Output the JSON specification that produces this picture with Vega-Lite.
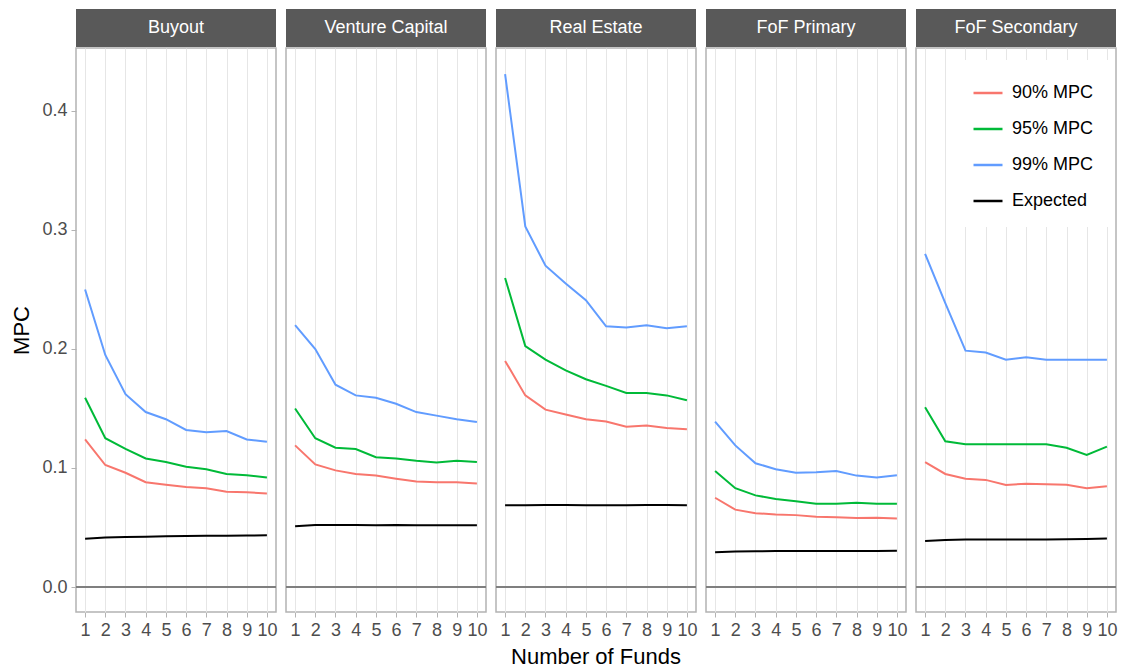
{
  "$schema": "https://vega.github.io/schema/vega-lite/v6.json",
  "background": "white",
  "padding": {"left": 10, "top": 9, "right": 5, "bottom": 0},
  "spacing": 0,
  "config": {
    "font": "Liberation Sans",
    "view": {"stroke": "#B3B3B3", "strokeWidth": 1.5},
    "axis": {
      "gridColor": "#E6E6E6", "gridWidth": 1,
      "tickColor": "#B3B3B3", "tickSize": 5, "tickWidth": 1,
      "labelColor": "#4D4D4D", "labelFontSize": 18, "labelFont": "Liberation Sans",
      "titleFontSize": 22, "titleFont": "Liberation Sans", "titleColor": "black", "titleFontWeight": "normal",
      "domain": false, "labelPadding": 4
    },
    "legend": {
      "labelFontSize": 18, "labelFont": "Liberation Sans", "labelColor": "black",
      "symbolType": "stroke", "symbolSize": 841, "symbolStrokeWidth": 2.5,
      "fillColor": "white", "padding": 17, "rowPadding": 11, "labelOffset": 8
    }
  },
  "datasets": {
    "panels": [
      {"panel": "Buyout"}, {"panel": "Venture Capital"}, {"panel": "Real Estate"}, {"panel": "FoF Primary"}, {"panel": "FoF Secondary"}
    ],
    "mpc": [
      {"panel":"Buyout","n":1,"series":"90% MPC","mpc":0.124},{"panel":"Buyout","n":2,"series":"90% MPC","mpc":0.1025},{"panel":"Buyout","n":3,"series":"90% MPC","mpc":0.096},{"panel":"Buyout","n":4,"series":"90% MPC","mpc":0.088},{"panel":"Buyout","n":5,"series":"90% MPC","mpc":0.086},{"panel":"Buyout","n":6,"series":"90% MPC","mpc":0.084},{"panel":"Buyout","n":7,"series":"90% MPC","mpc":0.083},{"panel":"Buyout","n":8,"series":"90% MPC","mpc":0.080},{"panel":"Buyout","n":9,"series":"90% MPC","mpc":0.0796},{"panel":"Buyout","n":10,"series":"90% MPC","mpc":0.0786},
      {"panel":"Buyout","n":1,"series":"95% MPC","mpc":0.159},{"panel":"Buyout","n":2,"series":"95% MPC","mpc":0.125},{"panel":"Buyout","n":3,"series":"95% MPC","mpc":0.116},{"panel":"Buyout","n":4,"series":"95% MPC","mpc":0.108},{"panel":"Buyout","n":5,"series":"95% MPC","mpc":0.105},{"panel":"Buyout","n":6,"series":"95% MPC","mpc":0.101},{"panel":"Buyout","n":7,"series":"95% MPC","mpc":0.099},{"panel":"Buyout","n":8,"series":"95% MPC","mpc":0.095},{"panel":"Buyout","n":9,"series":"95% MPC","mpc":0.094},{"panel":"Buyout","n":10,"series":"95% MPC","mpc":0.092},
      {"panel":"Buyout","n":1,"series":"99% MPC","mpc":0.250},{"panel":"Buyout","n":2,"series":"99% MPC","mpc":0.195},{"panel":"Buyout","n":3,"series":"99% MPC","mpc":0.162},{"panel":"Buyout","n":4,"series":"99% MPC","mpc":0.147},{"panel":"Buyout","n":5,"series":"99% MPC","mpc":0.141},{"panel":"Buyout","n":6,"series":"99% MPC","mpc":0.132},{"panel":"Buyout","n":7,"series":"99% MPC","mpc":0.130},{"panel":"Buyout","n":8,"series":"99% MPC","mpc":0.131},{"panel":"Buyout","n":9,"series":"99% MPC","mpc":0.124},{"panel":"Buyout","n":10,"series":"99% MPC","mpc":0.122},
      {"panel":"Buyout","n":1,"series":"Expected","mpc":0.0405},{"panel":"Buyout","n":2,"series":"Expected","mpc":0.0415},{"panel":"Buyout","n":3,"series":"Expected","mpc":0.042},{"panel":"Buyout","n":4,"series":"Expected","mpc":0.0422},{"panel":"Buyout","n":5,"series":"Expected","mpc":0.0426},{"panel":"Buyout","n":6,"series":"Expected","mpc":0.0428},{"panel":"Buyout","n":7,"series":"Expected","mpc":0.043},{"panel":"Buyout","n":8,"series":"Expected","mpc":0.043},{"panel":"Buyout","n":9,"series":"Expected","mpc":0.0432},{"panel":"Buyout","n":10,"series":"Expected","mpc":0.0434},

      {"panel":"Venture Capital","n":1,"series":"90% MPC","mpc":0.119},{"panel":"Venture Capital","n":2,"series":"90% MPC","mpc":0.103},{"panel":"Venture Capital","n":3,"series":"90% MPC","mpc":0.098},{"panel":"Venture Capital","n":4,"series":"90% MPC","mpc":0.095},{"panel":"Venture Capital","n":5,"series":"90% MPC","mpc":0.0936},{"panel":"Venture Capital","n":6,"series":"90% MPC","mpc":0.091},{"panel":"Venture Capital","n":7,"series":"90% MPC","mpc":0.0886},{"panel":"Venture Capital","n":8,"series":"90% MPC","mpc":0.088},{"panel":"Venture Capital","n":9,"series":"90% MPC","mpc":0.088},{"panel":"Venture Capital","n":10,"series":"90% MPC","mpc":0.087},
      {"panel":"Venture Capital","n":1,"series":"95% MPC","mpc":0.150},{"panel":"Venture Capital","n":2,"series":"95% MPC","mpc":0.125},{"panel":"Venture Capital","n":3,"series":"95% MPC","mpc":0.117},{"panel":"Venture Capital","n":4,"series":"95% MPC","mpc":0.116},{"panel":"Venture Capital","n":5,"series":"95% MPC","mpc":0.109},{"panel":"Venture Capital","n":6,"series":"95% MPC","mpc":0.108},{"panel":"Venture Capital","n":7,"series":"95% MPC","mpc":0.106},{"panel":"Venture Capital","n":8,"series":"95% MPC","mpc":0.1046},{"panel":"Venture Capital","n":9,"series":"95% MPC","mpc":0.106},{"panel":"Venture Capital","n":10,"series":"95% MPC","mpc":0.105},
      {"panel":"Venture Capital","n":1,"series":"99% MPC","mpc":0.220},{"panel":"Venture Capital","n":2,"series":"99% MPC","mpc":0.200},{"panel":"Venture Capital","n":3,"series":"99% MPC","mpc":0.170},{"panel":"Venture Capital","n":4,"series":"99% MPC","mpc":0.161},{"panel":"Venture Capital","n":5,"series":"99% MPC","mpc":0.159},{"panel":"Venture Capital","n":6,"series":"99% MPC","mpc":0.154},{"panel":"Venture Capital","n":7,"series":"99% MPC","mpc":0.147},{"panel":"Venture Capital","n":8,"series":"99% MPC","mpc":0.144},{"panel":"Venture Capital","n":9,"series":"99% MPC","mpc":0.141},{"panel":"Venture Capital","n":10,"series":"99% MPC","mpc":0.1386},
      {"panel":"Venture Capital","n":1,"series":"Expected","mpc":0.051},{"panel":"Venture Capital","n":2,"series":"Expected","mpc":0.0522},{"panel":"Venture Capital","n":3,"series":"Expected","mpc":0.052},{"panel":"Venture Capital","n":4,"series":"Expected","mpc":0.052},{"panel":"Venture Capital","n":5,"series":"Expected","mpc":0.0518},{"panel":"Venture Capital","n":6,"series":"Expected","mpc":0.052},{"panel":"Venture Capital","n":7,"series":"Expected","mpc":0.0518},{"panel":"Venture Capital","n":8,"series":"Expected","mpc":0.0518},{"panel":"Venture Capital","n":9,"series":"Expected","mpc":0.0518},{"panel":"Venture Capital","n":10,"series":"Expected","mpc":0.0518},

      {"panel":"Real Estate","n":1,"series":"90% MPC","mpc":0.190},{"panel":"Real Estate","n":2,"series":"90% MPC","mpc":0.161},{"panel":"Real Estate","n":3,"series":"90% MPC","mpc":0.149},{"panel":"Real Estate","n":4,"series":"90% MPC","mpc":0.145},{"panel":"Real Estate","n":5,"series":"90% MPC","mpc":0.141},{"panel":"Real Estate","n":6,"series":"90% MPC","mpc":0.139},{"panel":"Real Estate","n":7,"series":"90% MPC","mpc":0.1346},{"panel":"Real Estate","n":8,"series":"90% MPC","mpc":0.1357},{"panel":"Real Estate","n":9,"series":"90% MPC","mpc":0.1336},{"panel":"Real Estate","n":10,"series":"90% MPC","mpc":0.1325},
      {"panel":"Real Estate","n":1,"series":"95% MPC","mpc":0.2596},{"panel":"Real Estate","n":2,"series":"95% MPC","mpc":0.2025},{"panel":"Real Estate","n":3,"series":"95% MPC","mpc":0.191},{"panel":"Real Estate","n":4,"series":"95% MPC","mpc":0.182},{"panel":"Real Estate","n":5,"series":"95% MPC","mpc":0.1746},{"panel":"Real Estate","n":6,"series":"95% MPC","mpc":0.169},{"panel":"Real Estate","n":7,"series":"95% MPC","mpc":0.163},{"panel":"Real Estate","n":8,"series":"95% MPC","mpc":0.163},{"panel":"Real Estate","n":9,"series":"95% MPC","mpc":0.161},{"panel":"Real Estate","n":10,"series":"95% MPC","mpc":0.157},
      {"panel":"Real Estate","n":1,"series":"99% MPC","mpc":0.431},{"panel":"Real Estate","n":2,"series":"99% MPC","mpc":0.303},{"panel":"Real Estate","n":3,"series":"99% MPC","mpc":0.270},{"panel":"Real Estate","n":4,"series":"99% MPC","mpc":0.255},{"panel":"Real Estate","n":5,"series":"99% MPC","mpc":0.241},{"panel":"Real Estate","n":6,"series":"99% MPC","mpc":0.219},{"panel":"Real Estate","n":7,"series":"99% MPC","mpc":0.218},{"panel":"Real Estate","n":8,"series":"99% MPC","mpc":0.220},{"panel":"Real Estate","n":9,"series":"99% MPC","mpc":0.2175},{"panel":"Real Estate","n":10,"series":"99% MPC","mpc":0.219},
      {"panel":"Real Estate","n":1,"series":"Expected","mpc":0.0686},{"panel":"Real Estate","n":2,"series":"Expected","mpc":0.0688},{"panel":"Real Estate","n":3,"series":"Expected","mpc":0.069},{"panel":"Real Estate","n":4,"series":"Expected","mpc":0.069},{"panel":"Real Estate","n":5,"series":"Expected","mpc":0.0688},{"panel":"Real Estate","n":6,"series":"Expected","mpc":0.0688},{"panel":"Real Estate","n":7,"series":"Expected","mpc":0.0688},{"panel":"Real Estate","n":8,"series":"Expected","mpc":0.069},{"panel":"Real Estate","n":9,"series":"Expected","mpc":0.069},{"panel":"Real Estate","n":10,"series":"Expected","mpc":0.0688},

      {"panel":"FoF Primary","n":1,"series":"90% MPC","mpc":0.075},{"panel":"FoF Primary","n":2,"series":"90% MPC","mpc":0.065},{"panel":"FoF Primary","n":3,"series":"90% MPC","mpc":0.062},{"panel":"FoF Primary","n":4,"series":"90% MPC","mpc":0.061},{"panel":"FoF Primary","n":5,"series":"90% MPC","mpc":0.0604},{"panel":"FoF Primary","n":6,"series":"90% MPC","mpc":0.059},{"panel":"FoF Primary","n":7,"series":"90% MPC","mpc":0.0586},{"panel":"FoF Primary","n":8,"series":"90% MPC","mpc":0.058},{"panel":"FoF Primary","n":9,"series":"90% MPC","mpc":0.0582},{"panel":"FoF Primary","n":10,"series":"90% MPC","mpc":0.0575},
      {"panel":"FoF Primary","n":1,"series":"95% MPC","mpc":0.0975},{"panel":"FoF Primary","n":2,"series":"95% MPC","mpc":0.083},{"panel":"FoF Primary","n":3,"series":"95% MPC","mpc":0.077},{"panel":"FoF Primary","n":4,"series":"95% MPC","mpc":0.074},{"panel":"FoF Primary","n":5,"series":"95% MPC","mpc":0.072},{"panel":"FoF Primary","n":6,"series":"95% MPC","mpc":0.070},{"panel":"FoF Primary","n":7,"series":"95% MPC","mpc":0.070},{"panel":"FoF Primary","n":8,"series":"95% MPC","mpc":0.0707},{"panel":"FoF Primary","n":9,"series":"95% MPC","mpc":0.070},{"panel":"FoF Primary","n":10,"series":"95% MPC","mpc":0.070},
      {"panel":"FoF Primary","n":1,"series":"99% MPC","mpc":0.139},{"panel":"FoF Primary","n":2,"series":"99% MPC","mpc":0.119},{"panel":"FoF Primary","n":3,"series":"99% MPC","mpc":0.104},{"panel":"FoF Primary","n":4,"series":"99% MPC","mpc":0.099},{"panel":"FoF Primary","n":5,"series":"99% MPC","mpc":0.096},{"panel":"FoF Primary","n":6,"series":"99% MPC","mpc":0.0964},{"panel":"FoF Primary","n":7,"series":"99% MPC","mpc":0.0975},{"panel":"FoF Primary","n":8,"series":"99% MPC","mpc":0.0936},{"panel":"FoF Primary","n":9,"series":"99% MPC","mpc":0.092},{"panel":"FoF Primary","n":10,"series":"99% MPC","mpc":0.094},
      {"panel":"FoF Primary","n":1,"series":"Expected","mpc":0.0293},{"panel":"FoF Primary","n":2,"series":"Expected","mpc":0.0298},{"panel":"FoF Primary","n":3,"series":"Expected","mpc":0.030},{"panel":"FoF Primary","n":4,"series":"Expected","mpc":0.0302},{"panel":"FoF Primary","n":5,"series":"Expected","mpc":0.0303},{"panel":"FoF Primary","n":6,"series":"Expected","mpc":0.0302},{"panel":"FoF Primary","n":7,"series":"Expected","mpc":0.0302},{"panel":"FoF Primary","n":8,"series":"Expected","mpc":0.0303},{"panel":"FoF Primary","n":9,"series":"Expected","mpc":0.0303},{"panel":"FoF Primary","n":10,"series":"Expected","mpc":0.0304},

      {"panel":"FoF Secondary","n":1,"series":"90% MPC","mpc":0.105},{"panel":"FoF Secondary","n":2,"series":"90% MPC","mpc":0.095},{"panel":"FoF Secondary","n":3,"series":"90% MPC","mpc":0.091},{"panel":"FoF Secondary","n":4,"series":"90% MPC","mpc":0.090},{"panel":"FoF Secondary","n":5,"series":"90% MPC","mpc":0.0857},{"panel":"FoF Secondary","n":6,"series":"90% MPC","mpc":0.0868},{"panel":"FoF Secondary","n":7,"series":"90% MPC","mpc":0.0864},{"panel":"FoF Secondary","n":8,"series":"90% MPC","mpc":0.086},{"panel":"FoF Secondary","n":9,"series":"90% MPC","mpc":0.083},{"panel":"FoF Secondary","n":10,"series":"90% MPC","mpc":0.0846},
      {"panel":"FoF Secondary","n":1,"series":"95% MPC","mpc":0.151},{"panel":"FoF Secondary","n":2,"series":"95% MPC","mpc":0.1225},{"panel":"FoF Secondary","n":3,"series":"95% MPC","mpc":0.120},{"panel":"FoF Secondary","n":4,"series":"95% MPC","mpc":0.120},{"panel":"FoF Secondary","n":5,"series":"95% MPC","mpc":0.120},{"panel":"FoF Secondary","n":6,"series":"95% MPC","mpc":0.120},{"panel":"FoF Secondary","n":7,"series":"95% MPC","mpc":0.120},{"panel":"FoF Secondary","n":8,"series":"95% MPC","mpc":0.117},{"panel":"FoF Secondary","n":9,"series":"95% MPC","mpc":0.111},{"panel":"FoF Secondary","n":10,"series":"95% MPC","mpc":0.118},
      {"panel":"FoF Secondary","n":1,"series":"99% MPC","mpc":0.280},{"panel":"FoF Secondary","n":2,"series":"99% MPC","mpc":0.2386},{"panel":"FoF Secondary","n":3,"series":"99% MPC","mpc":0.1986},{"panel":"FoF Secondary","n":4,"series":"99% MPC","mpc":0.197},{"panel":"FoF Secondary","n":5,"series":"99% MPC","mpc":0.191},{"panel":"FoF Secondary","n":6,"series":"99% MPC","mpc":0.193},{"panel":"FoF Secondary","n":7,"series":"99% MPC","mpc":0.191},{"panel":"FoF Secondary","n":8,"series":"99% MPC","mpc":0.191},{"panel":"FoF Secondary","n":9,"series":"99% MPC","mpc":0.191},{"panel":"FoF Secondary","n":10,"series":"99% MPC","mpc":0.191},
      {"panel":"FoF Secondary","n":1,"series":"Expected","mpc":0.0386},{"panel":"FoF Secondary","n":2,"series":"Expected","mpc":0.0396},{"panel":"FoF Secondary","n":3,"series":"Expected","mpc":0.040},{"panel":"FoF Secondary","n":4,"series":"Expected","mpc":0.040},{"panel":"FoF Secondary","n":5,"series":"Expected","mpc":0.040},{"panel":"FoF Secondary","n":6,"series":"Expected","mpc":0.040},{"panel":"FoF Secondary","n":7,"series":"Expected","mpc":0.040},{"panel":"FoF Secondary","n":8,"series":"Expected","mpc":0.0402},{"panel":"FoF Secondary","n":9,"series":"Expected","mpc":0.0404},{"panel":"FoF Secondary","n":10,"series":"Expected","mpc":0.0407}
    ]
  },
  "vconcat": [
    {
      "data": {"name": "panels"},
      "facet": {
        "column": {
          "field": "panel", "type": "nominal", "title": null,
          "sort": ["Buyout", "Venture Capital", "Real Estate", "FoF Primary", "FoF Secondary"],
          "header": {"labels": false, "title": null}
        }
      },
      "spacing": 10,
      "bounds": "flush",
      "spec": {
        "width": 200, "height": 38,
        "view": {"fill": "#595959", "stroke": null},
        "mark": {"type": "text", "color": "white", "fontSize": 18, "font": "Liberation Sans", "baseline": "middle", "align": "center"},
        "encoding": {"text": {"field": "panel", "type": "nominal"}}
      }
    },
    {
      "data": {"name": "mpc"},
      "facet": {
        "column": {
          "field": "panel", "type": "nominal", "title": "Number of Funds",
          "sort": ["Buyout", "Venture Capital", "Real Estate", "FoF Primary", "FoF Secondary"],
          "header": {"labels": false, "titleOrient": "bottom", "titleFontSize": 22, "titleColor": "black", "titleFontWeight": "normal", "titleFont": "Liberation Sans", "titlePadding": -2}
        }
      },
      "spacing": 10,
      "bounds": "flush",
      "spec": {
        "width": 200, "height": 564,
        "layer": [
          {
            "mark": {"type": "rule", "color": "#7F7F7F", "strokeWidth": 2},
            "encoding": {"y": {"datum": 0, "type": "quantitative"}}
          },
          {
            "mark": {"type": "line", "strokeWidth": 2},
            "encoding": {
              "x": {
                "field": "n", "type": "quantitative", "title": null,
                "scale": {"domain": [0.55, 10.45], "nice": false, "zero": false},
                "axis": {"values": [1,2,3,4,5,6,7,8,9,10], "labelOverlap": false, "labelFlush": false, "format": "d"}
              },
              "y": {
                "field": "mpc", "type": "quantitative", "title": "MPC",
                "scale": {"domain": [-0.021, 0.4529], "nice": false, "zero": false},
                "axis": {"values": [0, 0.1, 0.2, 0.3, 0.4], "format": ".1f", "titlePadding": 8}
              },
              "color": {
                "field": "series", "type": "nominal", "title": null,
                "scale": {"domain": ["90% MPC", "95% MPC", "99% MPC", "Expected"], "range": ["#F8766D", "#00BA38", "#619CFF", "#000000"]},
                "legend": {"orient": "none", "legendX": 879, "legendY": 51}
              },
              "detail": {"field": "series"}
            }
          }
        ]
      }
    }
  ]
}
